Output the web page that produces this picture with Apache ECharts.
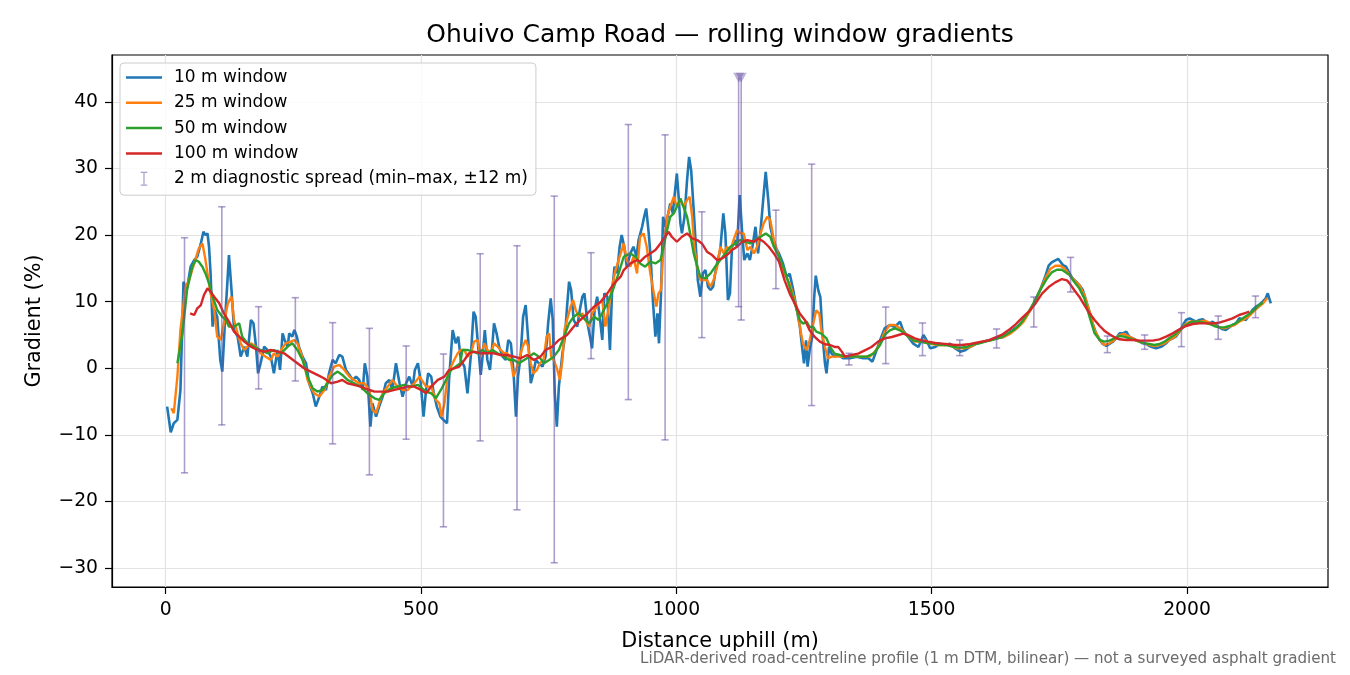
<!DOCTYPE html>
<html>
<head>
<meta charset="utf-8">
<title>Ohuivo Camp Road</title>
<script src="https://cdn.jsdelivr.net/npm/echarts@6.0.0/dist/echarts.min.js"></script>
<style>
  html, body { margin: 0; padding: 0; background: #fff; }
  #chart { width: 1350px; height: 675px; }
</style>
</head>
<body>
<div id="chart"></div>
<script>
// gradient (%), as [distance uphill (m), gradient]
var win10 = [
  [3,-5.75],[10,-9.6],[16,-8.25],[23,-7.75],[29,-3.25],[35,13],[38,12.25],[42,12],[49,15.25],[56,16.25],
  [62,16.75],[69,18.75],[74,20.5],[78,20],[82,20.25],[85,18.25],[88,14.25],[92,6.25],[96,8.75],[101,7.75],
  [107,1.25],[111,-0.5],[116,6.75],[120,11.75],[124,17],[129,11.75],[134,5.75],[141,4.75],[147,1.75],[154,3.25],
  [160,1.75],[167,7.25],[172,6.75],[177,3.25],[181,-0.75],[186,0.75],[193,3.25],[199,2.75],[206,1.75],[212,-0.75],
  [219,2.75],[224,-0.25],[229,5.25],[233,4.25],[239,3.25],[242,5.25],[248,4.75],[252,5.75],[257,4.75],[261,3.25],
  [268,1.75],[275,0.75],[281,-2.25],[288,-3.75],[294,-5.75],[301,-4.25],[307,-2.75],[314,-3.25],[320,-0.75],[327,1.25],
  [333,0.75],[340,2],[346,1.75],[353,-0.25],[360,-1],[366,-1.75],[373,-1.25],[379,-1.75],[386,-3.25],[390,0.75],
  [395,-1.25],[401,-8.75],[405,-5.25],[412,-7.25],[418,-5.75],[425,-4.25],[431,-2.25],[438,-1.75],[444,-3.25],[451,0.75],
  [458,-2.25],[464,-4.25],[471,-2.25],[477,-1.25],[484,-2.75],[488,-0.25],[494,0.75],[499,-1.75],
  [505,-7.25],[510,-3.25],[514,-0.75],[520,-1.25],[525,-3.75],[531,-5.75],[538,-7.25],[544,-7.75],[551,-8.25],[555,-1.75],
  [562,5.75],[568,3.75],[573,4.75],[578,1.25],[585,0.25],[591,-3.75],[598,2.25],[603,8.5],[607,7.75],[612,3.25],
  [617,-1],[620,1.25],[625,5.75],[630,1.25],[635,-0.25],[640,3.75],[643,6.75],[648,5.25],[653,3.25],[660,1.75],
  [666,1.25],[671,4.25],[676,3.75],[681,-0.25],[686,-7.25],[690,-1.25],[695,1.75],[700,7.75],[705,9.5],[710,4.25],
  [715,-2.25],[720,-0.75],[725,1.25],[731,0.75],[738,0.25],[744,1.75],[749,6.75],[754,10.5],[758,7.25],[762,-3.75],
  [766,-8.75],[770,-2.75],[777,2.25],[782,4.75],[786,9.25],[790,13],[794,11.75],[799,7.25],[806,6.25],[811,8.75],
  [816,10.75],[820,11.25],[826,6.75],[831,4.75],[835,3],[840,8.75],[845,10.75],[850,7.75],[855,4.25],[859,11.25],
  [865,10.75],[870,2.75],[874,11.25],[879,15.25],[884,14.25],[889,18.25],[893,20],[898,18.25],[903,15.25],[910,17.25],
  [916,18.25],[922,16.75],[926,19.25],[933,21.25],[937,22.75],[941,24],[946,20.25],[950,16.25],[954,10.25],[959,4.75],
  [963,8.25],[966,3.75],[970,11.25],[974,22.75],[978,21.25],[983,22.75],[988,24.75],[993,23.25],[997,26.25],[1001,29.25],
  [1005,25.25],[1008,21.75],[1011,20.25],[1016,22.75],[1021,28.25],[1025,31.75],[1029,29.75],[1034,23.75],[1039,17.25],[1042,13.25],
  [1047,10.75],[1052,14.25],[1057,14.75],[1062,12.25],[1067,11.75],[1072,12.25],[1076,14.25],[1081,16.25],[1086,17.75],[1092,23.25],
  [1096,20.25],[1101,10.25],[1105,11.25],[1109,18.25],[1114,19.25],[1119,18.25],[1124,26],[1129,20.25],[1133,16.25],[1139,17.25],
  [1144,16.25],[1149,18.25],[1155,21.25],[1160,17.25],[1165,20.75],[1170,25.25],[1175,29.5],[1180,25.25],[1184,21.25],[1190,19.25],
  [1194,18.25],[1201,17.25],[1209,15.7],[1216,13.7],[1222,14.2],[1229,11.7],[1235,9.2],[1242,6.2],[1247,2.7],[1250,0.75],
  [1254,4.2],[1257,0.25],[1261,2.7],[1266,4.7],[1270,10.7],[1273,13.9],[1278,11.7],[1282,10.7],[1286,5.2],[1291,0.75],
  [1294,-0.75],[1299,3.2],[1304,2.2],[1310,1.75],[1317,2],[1327,1.5],[1340,1.5],[1353,1.75],[1366,1.5],[1376,1.5],
  [1384,1],[1392,2.7],[1399,4.2],[1408,6],[1418,6.5],[1428,6.2],[1438,7],[1444,5.7],[1454,4.7],[1464,3.7],
  [1474,3.2],[1484,5],[1490,4.2],[1497,3],[1507,3.2],[1516,3.7],[1526,3.5],[1536,3.7],[1546,3],[1556,2.5],
  [1565,2.7],[1575,3.2],[1588,3.7],[1601,4],[1614,4.2],[1627,4.5],[1641,4.7],[1654,5.5],[1667,6.2],[1680,7.2],
  [1693,8.7],[1703,10.2],[1712,11.7],[1722,13.7],[1729,15.4],[1735,15.9],[1742,16.2],[1748,16.4],[1757,15.5],[1763,15.25],
  [1770,14.25],[1776,13.5],[1783,13],[1789,12.5],[1796,11.75],[1802,10.25],[1809,8.5],[1815,6.75],[1822,5.25],[1829,4.25],
  [1835,3.65],[1842,3.35],[1848,3.65],[1855,4],[1861,4.5],[1868,5.25],[1874,5.25],[1881,5.5],[1887,4.75],[1894,4.5],
  [1900,4.25],[1907,4],[1913,3.75],[1920,3.65],[1926,3.35],[1933,3.15],[1939,3],[1946,3.15],[1952,3.35],[1959,3.75],
  [1965,4.25],[1972,4.5],[1978,4.75],[1985,5.5],[1992,6.5],[1998,7.25],[2005,7.5],[2011,7.25],[2018,7],[2024,7.25],
  [2031,7.35],[2037,7],[2044,6.75],[2050,7],[2057,6.5],[2063,6.15],[2070,5.85],[2076,5.75],[2083,6.15],[2089,6.5],
  [2096,6.75],[2102,7.5],[2109,7.35],[2115,7.25],[2122,8],[2128,8.75],[2135,9.25],[2141,9.5],[2148,10],[2154,10.5],
  [2158,11.25],[2161,11.5],[2164,9.75]
];

var win25 = [
  [11,-6],[16,-6.75],[23,-1.25],[29,5.75],[39,12.25],[46,13.25],[52,14.75],[59,16.5],[65,18],[72,18.75],
  [77,16.75],[82,14.25],[88,11.25],[95,8.75],[101,4.75],[108,4.25],[114,6.75],[122,9.75],[129,10.75],[134,7.25],
  [141,5.25],[147,3.75],[154,2.75],[160,3.25],[167,3.75],[177,3.25],[186,2.25],[196,1.75],[206,1.25],[212,2.25],
  [219,1.75],[226,2.75],[235,3.75],[245,4],[252,4.25],[258,3.75],[265,2.25],[271,0.75],[278,-1.75],[284,-2.75],
  [291,-3.75],[301,-4.25],[311,-3.25],[320,-1.25],[330,0.25],[340,0.5],[350,-0.25],[360,-1.25],[369,-1.75],[379,-2.25],
  [389,-2.25],[399,-3.25],[405,-6.25],[412,-6.75],[418,-5.25],[425,-3.75],[435,-2.75],[444,-1.75],[454,-2.75],[464,-3.25],
  [474,-3.25],[487,-2.25],[497,-1.25],[510,-2.75],[520,-2.75],[529,-4.75],[536,-5.25],[540,-7.25],[546,-5.25],[552,-1.25],
  [559,0.25],[565,1.25],[572,2.25],[578,2.75],[585,2.75],[591,1.75],[598,2.25],[604,4],[611,4.25],[617,1.75],
  [624,3.75],[630,2.75],[637,2.25],[643,3.75],[650,3.25],[656,2.75],[663,2.25],[669,2.25],[676,1.25],[681,-1.25],
  [686,-0.25],[692,1.25],[699,3.25],[705,4.25],[710,3.25],[715,0.75],[720,-0.75],[727,-0.25],[733,0.75],[740,1.25],
  [746,4.75],[751,5.25],[755,1.75],[760,1.25],[767,-0.25],[772,-1.75],[777,1.25],[781,5.75],[786,7.25],[793,9.25],
  [798,10.25],[803,8.75],[809,7.75],[816,8.25],[822,7.25],[829,6.25],[835,8.25],[842,9],[848,9.75],[855,10.25],
  [861,6.25],[868,9.25],[874,12.25],[881,14.75],[887,16.25],[897,18.75],[903,16.25],[910,15.25],[916,16.75],[923,14.25],
  [929,19.75],[936,20.25],[942,18.25],[949,14.25],[956,11.25],[961,9.25],[965,11.25],[970,11.75],[975,18.25],[982,22.75],
  [988,24.25],[995,25.75],[1001,24.25],[1008,25.25],[1014,24.25],[1021,25.25],[1026,25.75],[1031,22.75],[1035,18.25],[1041,15.25],
  [1047,13.25],[1054,13.25],[1060,13.25],[1067,12.25],[1073,13.25],[1080,15.25],[1086,18.25],[1093,17.25],[1099,18.25],[1106,17.75],
  [1112,19.25],[1119,20.75],[1125,20.25],[1132,20.25],[1139,17.75],[1145,18.25],[1152,17.25],[1158,18.25],[1165,20.25],[1171,21.75],
  [1178,22.75],[1184,22.25],[1191,19.25],[1197,17.75],[1203,16.2],[1212,14.2],[1222,12.7],[1232,10.2],[1239,7.7],[1243,5.7],
  [1248,3.7],[1255,2.7],[1261,4.2],[1268,6.7],[1274,8.7],[1280,8.2],[1284,5.7],[1291,3.2],[1297,1.5],[1304,1.75],
  [1314,1.75],[1327,1.75],[1340,1.75],[1353,1.75],[1366,1.75],[1379,1.75],[1389,2.5],[1399,3.7],[1408,5.5],[1418,6.5],
  [1428,6.5],[1438,6],[1448,5.2],[1458,4.5],[1467,4],[1477,4],[1487,4.2],[1497,3.7],[1510,3.5],[1523,3.5],
  [1536,3.5],[1549,3],[1562,3],[1575,3.2],[1588,3.7],[1601,4],[1614,4.2],[1627,4.5],[1641,4.7],[1654,5.2],
  [1667,6],[1680,7],[1693,8.7],[1703,10.2],[1712,11.7],[1722,13.4],[1732,14.9],[1742,15.4],[1752,15.4],[1760,15],
  [1770,14],[1779,13.25],[1789,12.5],[1799,11],[1809,8.5],[1819,5.75],[1829,4.25],[1838,3.5],[1848,3.75],[1858,4.25],
  [1868,5],[1877,5.15],[1887,4.75],[1897,4.35],[1907,4],[1917,3.75],[1926,3.5],[1936,3.35],[1946,3.5],[1956,3.75],
  [1965,4.25],[1975,4.65],[1985,5.5],[1995,6.5],[2005,7],[2014,7],[2024,7],[2034,7.15],[2044,6.85],[2053,6.5],
  [2063,6.15],[2073,6],[2083,6.25],[2093,6.5],[2102,7],[2112,7.35],[2122,7.85],[2132,8.65],[2141,9.25],[2149,9.75],
  [2155,10.35],[2158,10.5]
];

var win50 = [
  [23,0.75],[33,5.25],[42,11.75],[52,15.25],[59,16.25],[65,16],[72,15.25],[78,14.25],[85,12.75],[92,10.75],
  [101,8.75],[111,7.75],[118,7.25],[124,6.25],[134,6.25],[144,6.75],[150,4.75],[160,3.75],[173,3.25],[186,2.75],
  [199,2.25],[212,2.75],[226,2.25],[239,3.25],[248,3.75],[258,2.75],[268,1.25],[278,-1.25],[288,-3],[297,-3.5],
  [307,-3.25],[317,-2.25],[327,-1],[337,-0.5],[346,-1],[356,-1.75],[369,-2.25],[382,-2.75],[395,-3.75],[409,-4.5],
  [418,-4.75],[428,-3.75],[441,-3],[454,-2.75],[467,-2.5],[480,-2.75],[494,-2.5],[510,-3.5],[520,-3.75],[529,-4.5],
  [539,-3.25],[549,-1.75],[559,-0.25],[568,0.25],[577,0.75],[581,2.75],[591,2.75],[601,2.5],[611,2.25],[620,2.75],
  [630,2.25],[640,2.75],[650,2.25],[663,1.75],[673,1.25],[682,1.25],[692,0.75],[702,1.25],[712,1.75],[721,2.25],
  [731,1.75],[741,0.75],[751,1.25],[760,1.75],[770,2.75],[780,4.75],[790,6.75],[799,7.75],[809,8.25],[819,7.5],
  [829,6.75],[839,7.75],[848,7.25],[858,8.75],[868,10.25],[878,12.25],[887,14.25],[897,16.75],[910,17.25],[920,16.75],
  [929,15.75],[939,15.25],[949,16],[959,15.75],[969,16.25],[975,18.25],[982,20.75],[988,22.75],[995,23.25],[1001,24.25],
  [1008,25.5],[1014,24.25],[1021,22.75],[1027,20.25],[1034,17.25],[1041,15.25],[1047,13.75],[1057,13.5],[1067,14.25],[1076,15.25],
  [1086,16.25],[1096,17.25],[1106,18.25],[1116,18.75],[1125,19.25],[1135,19],[1145,18.75],[1155,19.25],[1165,19.75],[1175,20.25],
  [1184,19.75],[1191,18.25],[1201,16.75],[1212,14.7],[1222,12.2],[1232,9.7],[1242,7.2],[1248,6.7],[1255,7],[1261,6.2],
  [1268,6.2],[1274,5.5],[1284,5.2],[1294,4.5],[1301,3.2],[1310,2.2],[1320,2],[1333,1.75],[1346,1.75],[1359,1.75],
  [1373,1.75],[1386,2.2],[1399,3.5],[1408,5],[1418,5.7],[1428,6],[1438,5.7],[1451,5],[1464,4.2],[1477,4],
  [1490,3.8],[1503,3.7],[1516,3.5],[1529,3.5],[1542,3.2],[1556,3.1],[1569,3.2],[1582,3.6],[1595,3.8],[1608,4.1],
  [1621,4.3],[1634,4.6],[1647,5.1],[1660,5.7],[1673,6.6],[1686,8],[1699,9.7],[1712,11.7],[1725,13.4],[1735,14.4],
  [1745,14.8],[1755,14.8],[1770,14],[1779,13],[1789,12],[1799,10.5],[1809,7.75],[1819,5.25],[1829,4.25],[1838,4],
  [1848,4.15],[1858,4.5],[1868,4.85],[1877,4.75],[1887,4.5],[1897,4.25],[1907,4],[1917,3.75],[1926,3.65],[1936,3.5],
  [1946,3.65],[1956,4],[1965,4.5],[1975,5],[1985,5.65],[1995,6.35],[2005,6.85],[2014,7],[2024,7],[2034,6.85],
  [2044,6.65],[2053,6.35],[2063,6.15],[2073,6.15],[2083,6.35],[2093,6.65],[2102,7.15],[2112,7.65],[2122,8.15],[2132,8.85],
  [2141,9.5],[2148,9.85]
];

var win100 = [
  [48,8.25],[56,8],[62,9],[69,9.5],[75,11],[82,12],[88,11.5],[95,10.75],[105,9.75],[114,8.25],
  [124,7],[134,5.5],[144,4.75],[154,4],[167,3.25],[180,2.75],[193,2.5],[206,2.75],[219,2.5],[232,2.25],
  [245,1.5],[258,0.75],[271,0],[284,-0.5],[297,-1],[310,-1.5],[324,-2.25],[337,-2],[346,-1.75],[356,-2.25],
  [369,-2.5],[382,-2.75],[395,-3.15],[409,-3.5],[422,-3.5],[435,-3.5],[448,-3.25],[461,-3],[474,-2.75],[487,-2.75],
  [500,-3.25],[510,-3.75],[520,-2.75],[533,-1.75],[546,-1.25],[555,-0.25],[565,0],[575,0.25],[585,1.25],[594,2.25],
  [604,2.5],[617,2.25],[630,2.25],[643,2.25],[656,2],[669,2],[682,1.75],[695,1.5],[708,2],[721,1.25],
  [734,1.75],[744,2.75],[757,3.25],[770,4.25],[786,5],[799,6.25],[812,7.25],[826,8.25],[839,9.25],[852,10],
  [865,11.25],[878,12.75],[891,13.75],[897,14.75],[910,15.75],[923,16.25],[929,16],[939,16.75],[949,17.25],[959,17.75],
  [969,18.75],[978,19.75],[985,20.5],[991,19.75],[1001,19],[1011,19.75],[1021,20.25],[1031,19.5],[1041,19.25],[1050,18.75],
  [1060,17.5],[1070,17],[1080,16.25],[1090,16.5],[1099,17],[1109,17.75],[1119,18.25],[1129,19],[1139,19.25],[1152,19],
  [1161,19.5],[1171,19],[1181,18.25],[1191,17.25],[1201,16],[1212,13.2],[1222,11.2],[1232,9.7],[1242,8.2],[1252,7.2],
  [1261,5.7],[1271,4.7],[1281,4],[1291,3.6],[1301,3.5],[1310,3.2],[1317,3.2],[1324,2.5],[1330,1.75],[1343,2],
  [1356,2.2],[1369,2.7],[1382,3.2],[1395,4],[1408,4.5],[1422,4.7],[1435,5],[1444,5.2],[1454,5],[1467,4.5],
  [1480,4.2],[1493,4],[1507,3.8],[1520,3.7],[1533,3.6],[1546,3.5],[1559,3.5],[1572,3.6],[1585,3.8],[1598,4],
  [1611,4.2],[1624,4.6],[1637,5],[1650,5.7],[1663,6.5],[1676,7.5],[1690,8.5],[1703,9.7],[1716,11.2],[1729,12.2],
  [1742,12.9],[1755,13.4],[1765,13.2],[1770,12.75],[1779,11.75],[1789,10.75],[1799,9.5],[1809,8.25],[1819,7.25],[1829,6.35],
  [1838,5.65],[1848,5.1],[1858,4.65],[1868,4.35],[1881,4.25],[1894,4.25],[1907,4.15],[1920,4.15],[1933,4.15],[1946,4.35],
  [1959,4.75],[1972,5.25],[1985,5.85],[1998,6.35],[2011,6.65],[2024,6.75],[2037,6.75],[2050,6.75],[2063,6.85],[2076,7.15],
  [2089,7.5],[2102,8],[2112,8.25],[2122,8.5]
];

// 2 m diagnostic spread: min and max inside +-12 m of each sample point
var spreadX  = [37, 110, 182, 254, 327, 399, 471, 544, 616, 688, 761, 833, 906, 978, 1050, 1122, 1127, 1195, 1265, 1338, 1410, 1482, 1555, 1627, 1700, 1772, 1844, 1917, 1989, 2061, 2134];
var spreadLo = [-15.7, -8.5, -3.1, -1.9, -11.35, -16.0, -10.65, -23.8, -10.9, -21.25, -29.2, 1.45, -4.7, -10.75, 4.6, 9.25, 7.25, 11.95, -5.6, 0.5, 0.7, 1.9, 1.9, 3.05, 6.2, 11.45, 2.35, 2.85, 3.25, 4.35, 7.6];
var spreadHi = [19.6, 24.25, 9.25, 10.6, 6.85, 6.0, 3.35, 2.15, 17.2, 18.4, 25.85, 17.35, 36.6, 35.05, 23.5, 61, 55, 23.75, 30.65, 2.25, 9.2, 6.8, 4.25, 5.9, 10.7, 16.65, 4.85, 5.0, 8.35, 7.85, 10.85];

var xTicks = [0, 500, 1000, 1500, 2000];
var yTicks = [-30, -20, -10, 0, 10, 20, 30, 40];
var xMin = -105, xMax = 2276;
var yMin = -32.84, yMax = 47.04;

var names = ['10 m window', '25 m window', '50 m window', '100 m window'];
var colors = ['#1f77b4', '#ff7f0e', '#2ca02c', '#d62728'];
var spreadName = '2 m diagnostic spread (min\u2013max, \u00b112 m)';
var spreadColor = 'rgba(106,81,163,0.55)';

// spreads running off the top are cut at the marker level and flagged
var clipLevel = yMax - 3.4;
var spreadData = spreadX.map(function (x, i) { return [x, spreadLo[i], spreadHi[i]]; });
var clipped = spreadData.filter(function (d) { return d[2] > yMax; })
  .map(function (d) { return [d[0], clipLevel]; });

function minus(v) { return String(v).replace('-', '\u2212'); }

var font = 'DejaVu Sans';
var chart = echarts.init(document.getElementById('chart'), null, {renderer: 'canvas'});

var lineSeries = [win10, win25, win50, win100].map(function (d, i) {
  return {
    name: names[i],
    type: 'line',
    data: d,
    symbol: 'none',
    showSymbol: false,
    lineStyle: {color: colors[i], width: i === 0 ? 2.6 : 2.4},
    itemStyle: {color: colors[i]},
    z: 2 + i
  };
});

chart.setOption({
  animation: false,
  textStyle: {fontFamily: font},
  title: {
    text: 'Ohuivo Camp Road \u2014 rolling window gradients',
    left: 715, top: 18, textAlign: 'center',
    textStyle: {fontFamily: font, fontSize: 25, fontWeight: 'normal', color: '#000'}
  },
  grid: {
    left: 112, right: 22, top: 55, bottom: 88,
    show: true, borderColor: '#000', borderWidth: 1.2, backgroundColor: 'transparent'
  },
  legend: {
    orient: 'vertical', left: 120, top: 63,
    padding: [6, 8, 8, 6],
    itemWidth: 36, itemHeight: 14, itemGap: 8.3,
    borderColor: '#cccccc', borderWidth: 1, borderRadius: 4,
    backgroundColor: 'rgba(255,255,255,0.8)',
    textStyle: {fontFamily: font, fontSize: 17, lineHeight: 17, color: '#000', padding: [0, 0, 0, 7]},
    data: names.map(function (n) {
      return {name: n, icon: 'path://M0,0H36V2.5H0Z'};
    }).concat([{
      name: spreadName,
      icon: 'path://M0,0H8V1.5H4.75V15.5H8V17H0V15.5H3.25V1.5H0Z'
    }])
  },
  xAxis: {
    type: 'value', min: xMin, max: xMax,
    name: 'Distance uphill (m)', nameLocation: 'middle', nameGap: 44,
    nameTextStyle: {fontFamily: font, fontSize: 20.8, color: '#000'},
    axisLine: {show: true, onZero: false, lineStyle: {color: '#000', width: 1.2}},
    axisTick: {show: true, length: 7, customValues: xTicks, lineStyle: {color: '#000', width: 1.2}},
    axisLabel: {customValues: xTicks, margin: 14, fontFamily: font, fontSize: 18.75, color: '#000', formatter: minus},
    splitLine: {show: true, lineStyle: {color: '#e3e3e3', width: 1.2}}
  },
  yAxis: {
    type: 'value', min: yMin, max: yMax,
    name: 'Gradient (%)', nameLocation: 'middle', nameGap: 67,
    nameTextStyle: {fontFamily: font, fontSize: 20.8, color: '#000'},
    axisLine: {show: true, onZero: false, lineStyle: {color: '#000', width: 1.2}},
    axisTick: {show: true, length: 7, customValues: yTicks, lineStyle: {color: '#000', width: 1.2}},
    axisLabel: {customValues: yTicks, margin: 14, fontFamily: font, fontSize: 18.75, color: '#000', formatter: minus},
    splitLine: {show: true, lineStyle: {color: '#e3e3e3', width: 1.2}}
  },
  series: lineSeries.concat([
    {
      name: spreadName,
      type: 'custom',
      z: 10,
      itemStyle: {color: spreadColor},
      encode: {x: 0, y: [1, 2]},
      data: spreadData,
      renderItem: function (params, api) {
        var x = api.value(0);
        var hi = api.value(2);
        var cut = hi > yMax;
        var pLo = api.coord([x, api.value(1)]);
        var pHi = api.coord([x, cut ? clipLevel : hi]);
        var cap = 3.6;
        var st = {stroke: spreadColor, lineWidth: 1.6, fill: null};
        var parts = [
          {type: 'line', shape: {x1: pLo[0], y1: pLo[1], x2: pHi[0], y2: pHi[1]}, style: st},
          {type: 'line', shape: {x1: pLo[0] - cap, y1: pLo[1], x2: pLo[0] + cap, y2: pLo[1]}, style: st}
        ];
        if (!cut) {
          parts.push({type: 'line', shape: {x1: pHi[0] - cap, y1: pHi[1], x2: pHi[0] + cap, y2: pHi[1]}, style: st});
        }
        return {type: 'group', children: parts};
      }
    },
    {
      name: 'clipped',
      type: 'scatter',
      z: 11,
      data: clipped,
      symbol: 'triangle', symbolRotate: 180, symbolSize: [11, 10],
      itemStyle: {color: spreadColor},
      silent: true
    }
  ]),
  graphic: [{
    type: 'text',
    right: 14, top: 652,
    style: {
      text: 'LiDAR-derived road-centreline profile (1 m DTM, bilinear) \u2014 not a surveyed asphalt gradient',
      font: '15.1px "DejaVu Sans"', fill: '#6b6b6b'
    }
  }]
});
</script>
</body>
</html>
